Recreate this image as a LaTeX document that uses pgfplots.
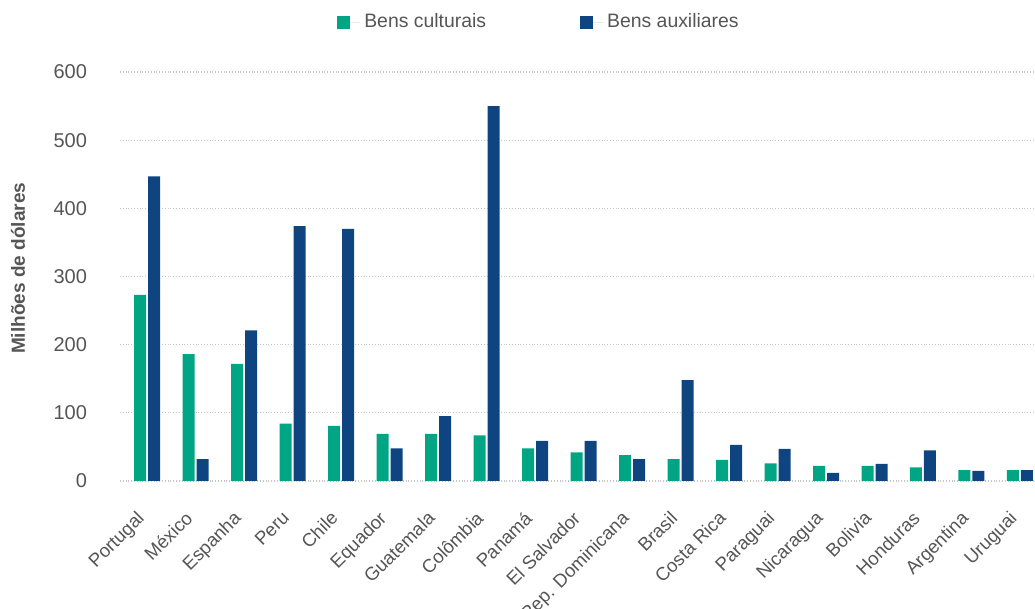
\documentclass[border=0pt]{standalone}
\usepackage{pgfplots}
\pgfplotsset{compat=1.18}
\usepackage{fontspec}
\setmainfont{Liberation Sans}
\definecolor{cgreen}{RGB}{0,165,132}
\definecolor{cblue}{RGB}{14,69,128}
\definecolor{ctext}{RGB}{85,85,85}
\begin{document}
\begin{tikzpicture}[x=1pt,y=1pt]
\useasboundingbox (0,0) rectangle (517.5,304.5);
\begin{axis}[
  at={(60pt,64pt)}, anchor=south west,
  scale only axis, width=457.5pt, height=204.5pt,
  ybar=1pt, bar width=6pt,
  xmin=-0.56, xmax=18.31, ymin=0, ymax=600,
  ytick={0,100,...,600},
  xtick={0,...,18},
  xticklabels={Portugal,México,Espanha,Peru,Chile,Equador,Guatemala,Colômbia,Panamá,El Salvador,Rep. Dominicana,Brasil,Costa Rica,Paraguai,Nicaragua,Bolivia,Honduras,Argentina,Uruguai},
  axis line style={draw=none},
  tick style={draw=none},
  ymajorgrids, grid style={densely dotted, gray!45, line width=0.6pt},
  /pgf/number format/assume math mode=true,
  yticklabel style={font=\fontsize{10}{12}\selectfont, text=ctext, xshift=-13pt},
  xticklabel style={font=\fontsize{9.3}{11}\selectfont, text=ctext, xshift=-5.8pt, yshift=-5.3pt, rotate=45, anchor=north east},
  ylabel={Milhões de dólares},
  ylabel style={at={(axis description cs:-0.1115,0.52)}, anchor=center, font=\fontsize{9.5}{11}\selectfont\bfseries, text=ctext},
  legend style={at={(0.459,1.122)}, anchor=center, draw=none, fill=none,
    legend columns=2, font=\fontsize{9.7}{12}\selectfont, text=ctext,
    /tikz/every even column/.append style={column sep=45pt}},
  legend image code/.code={\fill[#1] (0pt,-3.2pt) rectangle (6.5pt,3.2pt); \path (0pt,0pt) -- (11.5pt,0pt);},
]
\addplot[fill=cgreen, draw=none] coordinates {
(0,273) (1,186) (2,172) (3,84) (4,81) (5,69) (6,69) (7,67) (8,48) (9,42) (10,38) (11,32) (12,31) (13,26) (14,22) (15,22) (16,20) (17,16) (18,16)};
\addplot[fill=cblue, draw=none] coordinates {
(0,447) (1,32) (2,221) (3,374) (4,370) (5,48) (6,95) (7,550) (8,59) (9,59) (10,32) (11,148) (12,53) (13,47) (14,12) (15,25) (16,45) (17,15) (18,16)};
\legend{Bens culturais, Bens auxiliares}
\end{axis}
\end{tikzpicture}
\end{document}
